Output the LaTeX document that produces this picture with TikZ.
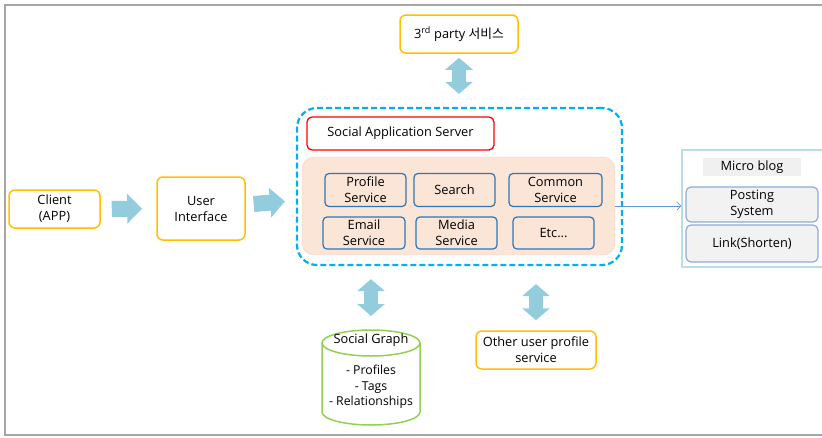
\documentclass[tikz,border=0pt]{standalone}
\usepackage{fontspec}
\setmainfont{Open Sans}
\newfontfamily\krfont{Noto Sans CJK KR}
\usetikzlibrary{arrows.meta}

\definecolor{gold}{HTML}{FFC000}
\definecolor{flowblue}{HTML}{93CDDD}
\definecolor{dashblue}{HTML}{00B0F0}
\definecolor{peach}{HTML}{FBE5D6}
\definecolor{peachline}{HTML}{F4D3C6}
\definecolor{svcblue}{HTML}{2E75B6}
\definecolor{paleblue}{HTML}{B7DEE8}
\definecolor{softblue}{HTML}{8FAADC}
\definecolor{linkblue}{HTML}{5B9BD5}
\definecolor{graphgreen}{HTML}{92D050}

\begin{document}
\begin{tikzpicture}[x=1pt, y=-1pt, font=\fontsize{12.8}{16}\selectfont,
  ybox/.style={draw=gold, line width=1.5pt, rounded corners=6pt, fill=white,
      align=center, inner sep=0pt},
  svc/.style={draw=svcblue, line width=1.2pt, rounded corners=4pt,
      align=center, inner sep=0pt, minimum height=33pt},
  sub/.style={draw=softblue, line width=1.2pt, rounded corners=5pt, fill=black!5,
      align=center, inner sep=0pt, minimum width=132pt},
  flow/.style={draw=flowblue, line width=16pt,
      -{Triangle[length=15pt, width=29pt]}},
  both/.style={draw=flowblue, line width=14pt,
      {Triangle[length=12pt, width=27pt]}-{Triangle[length=12pt, width=27pt]}}]

  \useasboundingbox (0,0) rectangle (822,437);
  \draw[black!35, line width=1.8pt] (823,5) -- (5,5) -- (5,435) -- (823,435);

  % outer boxes
  \node[ybox, minimum width=118pt, minimum height=38pt] (third) at (459,34)
      {3\textsuperscript{rd} party {\krfont 서비스}};
  \node[ybox, minimum width=91pt, minimum height=38pt] (client) at (54.5,209)
      {Client\\(APP)};
  \node[ybox, minimum width=88pt, minimum height=63pt] (ui) at (201,208.5)
      {User\\Interface};
  \node[ybox, minimum width=120pt, minimum height=38pt] (other) at (536,350)
      {Other user profile\\service};

  % application server
  \node[draw=dashblue, line width=2.2pt, dash pattern=on 6pt off 3pt,
      rounded corners=20pt, minimum width=325pt, minimum height=157pt]
      (server) at (459.5,186.5) {};
  \node[draw=red, line width=1.3pt, rounded corners=5pt, minimum width=187pt,
      minimum height=33pt, inner sep=0pt] (sas) at (400.5,133.5)
      {Social Application Server};
  \node[draw=peachline, fill=peach, rounded corners=12pt, minimum width=313pt,
      minimum height=98pt] (services) at (458.5,206) {};

  \node[svc, minimum width=81pt] (profile) at (365.5,190) {Profile\\Service};
  \node[svc, minimum width=81pt] (search)  at (454.5,190) {Search};
  \node[svc, minimum width=93pt] (common)  at (555.5,190) {Common\\Service};
  \node[svc, minimum width=82pt, minimum height=32pt] (email) at (364,233)
      {Email\\Service};
  \node[svc, minimum width=81pt, minimum height=32pt] (media) at (456.5,233)
      {Media\\Service};
  \node[svc, minimum width=81pt, minimum height=32pt] (etc)   at (553.5,233)
      {Etc...};

  % micro blog
  \node[draw=paleblue, line width=1.2pt, minimum width=142pt, minimum height=117pt]
      (micro) at (753,208.5) {};
  \node[fill=black!6, minimum width=98pt, minimum height=18pt, inner sep=0pt]
      (mblabel) at (752,167) {Micro blog};
  \node[sub, minimum height=35pt] (posting) at (752,204.5) {Posting\\System};
  \node[sub, minimum height=37pt] (link) at (752,243.5) {Link(Shorten)};

  % social graph cylinder
  \def\gx{371}
  \def\rx{49}
  \def\ry{13}
  \draw[draw=graphgreen, line width=1.5pt, fill=white]
      (\gx-\rx,343) -- (\gx-\rx,412)
      arc[start angle=180, end angle=0, x radius=\rx, y radius=\ry]
      -- (\gx+\rx,343);
  \draw[draw=graphgreen, line width=1.5pt]
      (\gx,343) ellipse[x radius=\rx, y radius=\ry];
  \coordinate (graph) at (\gx,330);
  \node (graphname) at (\gx,340) {Social Graph};
  \node[align=center, font=\fontsize{12.3}{15.5}\selectfont] (graphlist) at (\gx,387)
      {- Profiles\\- Tags\\- Relationships};

  % Draw the flow arrows
  \draw[flow, shorten <=11pt, shorten >=14pt] (client) -- (ui);
  \draw[flow, shorten <=8pt, shorten >=11pt] (ui) -- (server);
  \draw[both, shorten <=4pt, shorten >=13pt] (third) -- (third |- server.north);
  \draw[both, shorten <=13pt, shorten >=14pt] (graph |- server.south) -- (graph);
  \draw[both, shorten <=18pt, shorten >=10pt] (other |- server.south) -- (other);

  % Draw link to micro blog
  \draw[linkblue, line width=0.8pt, -{Straight Barb[length=4pt, width=8pt]}]
      (services.east) -- (services.east -| micro.west);

\end{tikzpicture}
\end{document}
